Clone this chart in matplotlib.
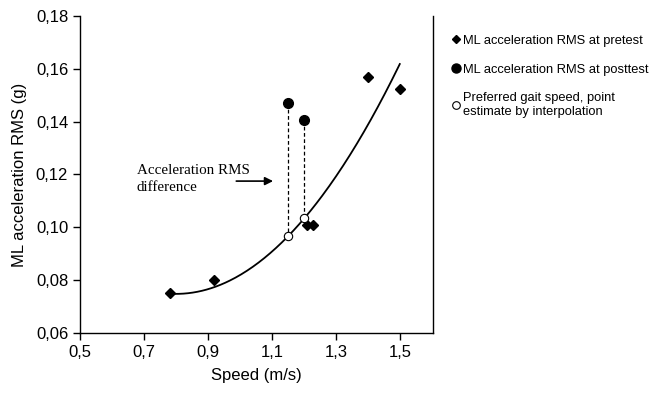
import numpy as np
import matplotlib
matplotlib.use("Agg")
import matplotlib.pyplot as plt
from matplotlib.lines import Line2D

plt.rcParams['font.family'] = ['Liberation Sans', 'DejaVu Sans']

# pretest points
pre_speed = [0.78, 0.92, 1.21, 1.23, 1.40, 1.50]
pre_rms = [0.075, 0.080, 0.101, 0.101, 0.157, 0.1525]
# posttest points
post_speed = [1.15, 1.20]
post_rms = [0.147, 0.1405]
# interpolated points on the trend curve
interp_speed = [1.15, 1.20]
interp_rms = [0.0967, 0.1035]
# quadratic trend curve: a*(x - x0)^2 + y0
trend_a, trend_x0, trend_y0 = 0.1776, 0.80, 0.0748
trend_range = (0.78, 1.50)

x_ticks = [0.5, 0.7, 0.9, 1.1, 1.3, 1.5]
y_ticks = [0.06, 0.08, 0.10, 0.12, 0.14, 0.16, 0.18]

fig = plt.figure(figsize=(6.52, 3.95), dpi=100)
ax = fig.add_axes([0.1227, 0.157, 0.541, 0.8025])

xs = np.linspace(trend_range[0], trend_range[1], 200)
ax.plot(xs, trend_a * (xs - trend_x0) ** 2 + trend_y0, color='black', lw=1.3, zorder=2)

for xp, yp, xi, yi in zip(post_speed, post_rms, interp_speed, interp_rms):
    ax.plot([xp, xi], [yp, yi], color='black', lw=0.9, ls=(0, (3, 2)), zorder=1)

ax.plot(pre_speed, pre_rms, 'D', color='black', ms=5, zorder=3)
ax.plot(post_speed, post_rms, 'o', color='black', ms=7, zorder=3)
ax.plot(interp_speed, interp_rms, 'o', mfc='white', mec='black', mew=0.8, ms=6, zorder=3)

ax.annotate('', xy=(1.1125, 0.1175), xytext=(0.98, 0.1175),
            arrowprops=dict(arrowstyle='-|>', color='black', lw=1.2, mutation_scale=12))
ax.text(0.678, 0.1182, 'Acceleration RMS\ndifference', family=['Liberation Serif'],
        fontsize=10.8, va='center', ha='left', linespacing=1.35)

ax.set_xlim(0.5, 1.603)
ax.set_ylim(0.06, 0.18)
ax.set_xticks(x_ticks)
ax.set_xticklabels([f"{v:.1f}".replace('.', ',') for v in x_ticks])
ax.set_yticks(y_ticks)
ax.set_yticklabels([f"{v:.2f}".replace('.', ',') for v in y_ticks])
ax.tick_params(direction='out', length=5, width=1, labelsize=12)
ax.spines['top'].set_visible(False)
for s in ['left', 'bottom', 'right']:
    ax.spines[s].set_linewidth(1)
ax.set_xlabel('Speed (m/s)', fontsize=12, labelpad=6)
ax.set_ylabel('ML acceleration RMS (g)', fontsize=12, labelpad=6)

handles = [
    Line2D([], [], ls='none', marker='D', color='black', ms=4.5),
    Line2D([], [], ls='none', marker='o', color='black', ms=6.5),
    Line2D([], [], ls='none', marker='o', mfc='white', mec='black', mew=0.8, ms=5.5),
]
labels = ['ML acceleration RMS at pretest', 'ML acceleration RMS at posttest',
          'Preferred gait speed, point\nestimate by interpolation']
fig.legend(handles, labels, loc='upper left', bbox_to_anchor=(0.686, 0.925),
           frameon=False, fontsize=9.3, handlelength=0.5, handletextpad=0.3,
           labelspacing=1.3, borderaxespad=0)

fig.savefig('out.png', dpi=100)
